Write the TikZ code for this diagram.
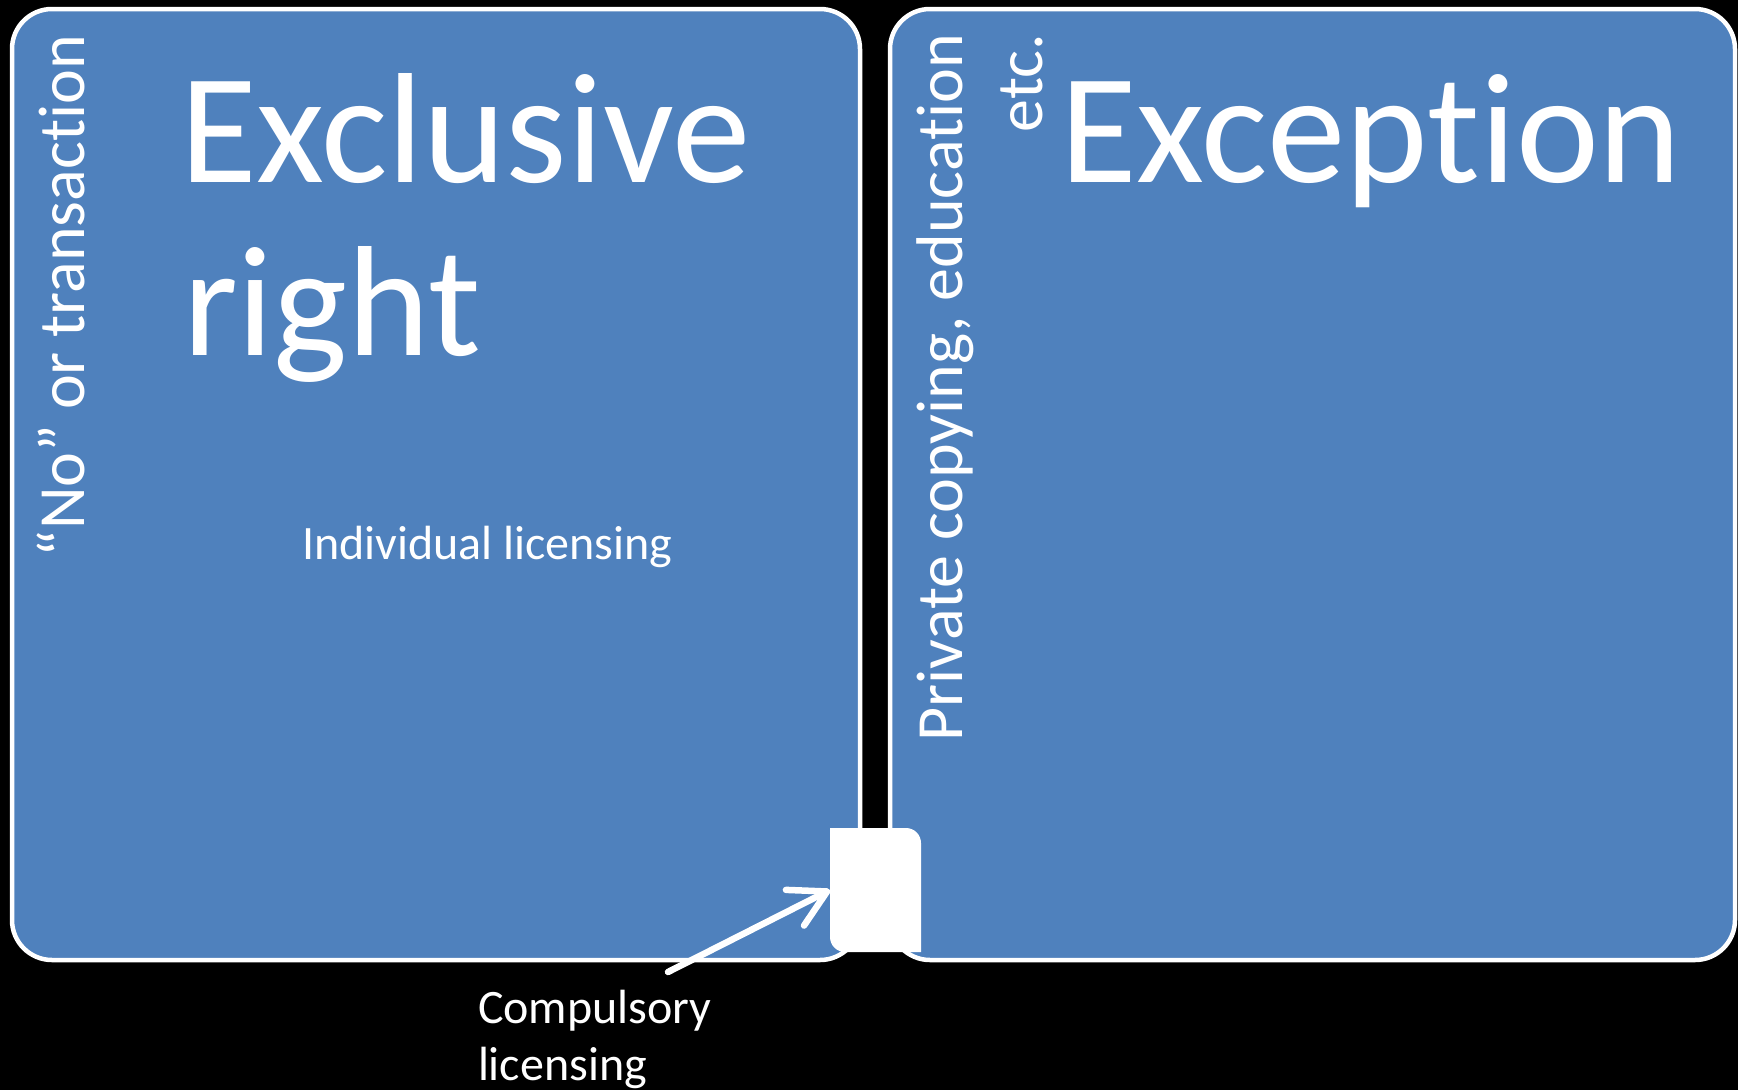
\documentclass[tikz,border=0pt]{standalone}
\usepackage{fontspec}
\setmainfont{Carlito}[Ligatures={NoCommon}]
\usetikzlibrary{arrows.meta}
\definecolor{boxblue}{RGB}{79,129,189}
\begin{document}
\begin{tikzpicture}[x=1pt,y=1pt,
  panel/.style={fill=boxblue,draw=white,line width=4.5pt,rounded corners=40pt,inner sep=0pt,outer sep=0pt,anchor=north west},
  txt/.style={text=white,inner sep=0pt,outer sep=0pt},
  big/.style={txt,font=\fontsize{157}{157}\selectfont,anchor=base west},
  mid/.style={txt,font=\fontsize{66}{79}\selectfont},
  small/.style={txt,font=\fontsize{48}{58}\selectfont,anchor=base west},
  arrowline/.style={draw=white,line width=6.5pt,line cap=round,-{Straight Barb[length=36pt,width=40pt,round]}}
]
\fill[black] (0,0) rectangle (1738,-1090);
\useasboundingbox (0,0) rectangle (1738,-1090);
% panels
\node[panel,minimum width=848pt,minimum height=951pt] (left) at (12,-9) {};
\node[panel,minimum width=845pt,minimum height=951pt] (right) at (890,-9) {};
% titles
\node[big] (excl) at (180,-182) {Exclusive};
\node[big] (rght) at (183,-355) {right};
\node[big] (exc) at (1060,-182) {Exception};
\node[small] (indiv) at (302,-559) {Individual licensing};
% vertical labels
\node[mid,rotate=90,anchor=base east] (no) at (84,-35) {“No” or transaction};
\node[mid,rotate=90,anchor=base east] (priv) at (962,-34) {Private copying, education};
\node[mid,rotate=90,anchor=base east] (etc) at (1042,-34) {etc.};
% white square
\node[inner sep=0pt,outer sep=0pt,minimum width=91pt,minimum height=124pt,anchor=north west] (sq) at (830,-828) {};
\fill[white] (sq.north west) -- ([xshift=-15pt]sq.north east) arc[start angle=90,end angle=0,radius=15pt]
  -- (sq.south east) -- ([xshift=15pt]sq.south west) arc[start angle=270,end angle=180,radius=15pt] -- cycle;
% compulsory licensing
\node[small] (comp) at (478,-1023) {Compulsory};
\node[small] (lic) at (478,-1080) {licensing};
\coordinate (cstart) at (668,-972);
\draw[arrowline] (cstart) -- (sq.west);
\end{tikzpicture}
\end{document}
